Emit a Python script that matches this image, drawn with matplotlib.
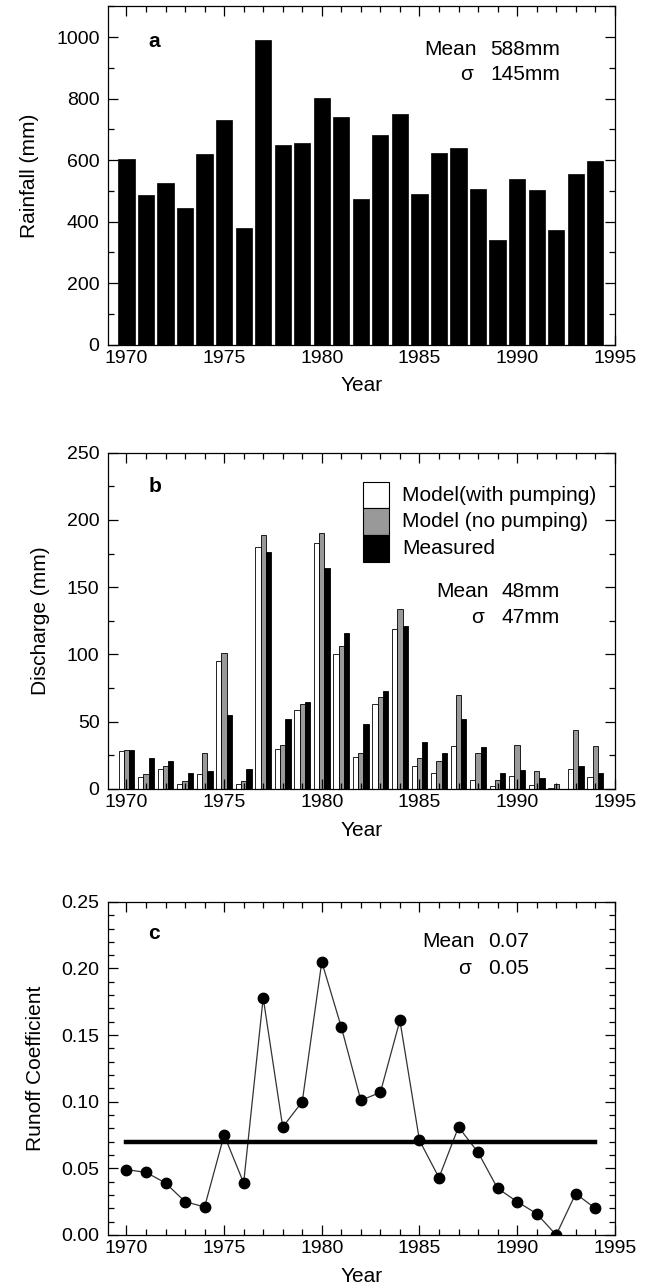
import numpy as np
import matplotlib.pyplot as plt
from matplotlib.patches import Rectangle
from matplotlib.ticker import MultipleLocator

plt.rcParams['font.family'] = ['Liberation Sans', 'DejaVu Sans']

years = np.arange(1970, 1995)

rainfall = [605, 488, 527, 446, 621, 731, 379, 992, 650, 657, 803, 742, 474,
            682, 749, 491, 623, 640, 505, 340, 538, 502, 372, 556, 596]

model_pumping = [28, 9, 15, 4, 11, 95, 4, 180, 30, 59, 183, 100, 24,
                 63, 119, 17, 12, 32, 7, 2, 10, 3, 1, 15, 9]
model_no_pumping = [29, 11, 17, 6, 27, 101, 6, 189, 33, 63, 190, 106, 27,
                    68, 134, 23, 21, 70, 27, 7, 33, 13, 4, 44, 32]
measured = [29, 23, 21, 12, 13, 55, 15, 176, 52, 65, 164, 116, 48,
            73, 121, 35, 27, 52, 31, 12, 14, 8, 0, 17, 12]
series_labels = ['Model(with pumping)', 'Model (no pumping)', 'Measured']
series_colors = ['white', '#999999', 'black']

runoff = [0.049, 0.047, 0.039, 0.025, 0.021, 0.075, 0.039, 0.178, 0.081,
          0.100, 0.205, 0.156, 0.101, 0.107, 0.161, 0.071, 0.043, 0.081,
          0.062, 0.035, 0.025, 0.016, 0.000, 0.031, 0.020]
runoff_mean = 0.07

fs_tick = 14
fs = 15

fig = plt.figure(figsize=(6.54, 12.86), dpi=100)
ax_a = fig.add_axes([0.165, 0.732, 0.775, 0.263])
ax_b = fig.add_axes([0.165, 0.3865, 0.775, 0.2615])
ax_c = fig.add_axes([0.165, 0.0397, 0.775, 0.259])


def style_axis(ax, ymax, major, minor, ylabel, fmt=None):
    ax.set_xlim(1969.05, 1995)
    ax.set_ylim(0, ymax)
    ax.xaxis.set_major_locator(MultipleLocator(5))
    ax.xaxis.set_minor_locator(MultipleLocator(1))
    ax.yaxis.set_major_locator(MultipleLocator(major))
    ax.yaxis.set_minor_locator(MultipleLocator(minor))
    ax.tick_params(which='both', direction='in', top=True, right=True,
                   labelsize=fs_tick, width=0.9)
    ax.tick_params(axis='x', pad=3.5)
    ax.tick_params(axis='y', pad=6)
    ax.tick_params(which='major', length=7)
    ax.tick_params(which='minor', length=4)
    for s in ax.spines.values():
        s.set_linewidth(0.9)
    if fmt:
        ax.yaxis.set_major_formatter(fmt)
    ax.set_xlabel('Year', fontsize=fs, labelpad=7)
    ax.set_ylabel(ylabel, fontsize=fs, labelpad=12)


def stats(ax, x0, y0, mean_txt, sd_txt, dy):
    ax.text(x0, y0, 'Mean', transform=ax.transAxes, fontsize=fs, va='center')
    ax.text(x0 + 0.13, y0, mean_txt, transform=ax.transAxes, fontsize=fs, va='center')
    ax.text(x0 + 0.07, y0 - dy, 'σ', transform=ax.transAxes, fontsize=fs, va='center')
    ax.text(x0 + 0.13, y0 - dy, sd_txt, transform=ax.transAxes, fontsize=fs, va='center')


def panel_letter(ax, letter, y):
    ax.text(0.08, y, letter, transform=ax.transAxes, fontsize=fs,
            fontweight='bold', va='center')


# (a) annual rainfall
ax_a.bar(years, rainfall, width=0.83, color='black', edgecolor='black', linewidth=0.5)
style_axis(ax_a, 1100, 200, 100, 'Rainfall (mm)')
panel_letter(ax_a, 'a', 0.896)
stats(ax_a, 0.625, 0.873, '588mm', '145mm', 0.074)

# (b) discharge, modelled vs measured
w = 0.27
for off, vals, col in zip([-w, 0, w], [model_pumping, model_no_pumping, measured], series_colors):
    ax_b.bar(years + off, vals, width=w, color=col, edgecolor='black', linewidth=0.6)
style_axis(ax_b, 250, 50, 25, 'Discharge (mm)')
panel_letter(ax_b, 'b', 0.899)

# stacked key boxes
box_h = 0.080
for i, (lab, col) in enumerate(zip(series_labels, series_colors)):
    top = 0.914 - i * box_h
    ax_b.add_patch(Rectangle((0.503, top - box_h), 0.051, box_h, transform=ax_b.transAxes,
                             facecolor=col, edgecolor='black', linewidth=0.8, clip_on=False))
    ax_b.text(0.58, top - box_h / 2, lab, transform=ax_b.transAxes, fontsize=fs, va='center')
stats(ax_b, 0.647, 0.586, '48mm', '47mm', 0.077)

# (c) runoff coefficient
ax_c.plot(years, runoff, color='#333333', linewidth=0.9, marker='o',
          markersize=7.5, markerfacecolor='black', markeredgecolor='black')
ax_c.plot([years[0], years[-1]], [runoff_mean, runoff_mean], color='black', linewidth=3.2)
style_axis(ax_c, 0.25, 0.05, 0.01, 'Runoff Coefficient', fmt='{x:.2f}')
panel_letter(ax_c, 'c', 0.904)
stats(ax_c, 0.621, 0.88, '0.07', '0.05', 0.08)

fig.savefig('out.png', dpi=100)
